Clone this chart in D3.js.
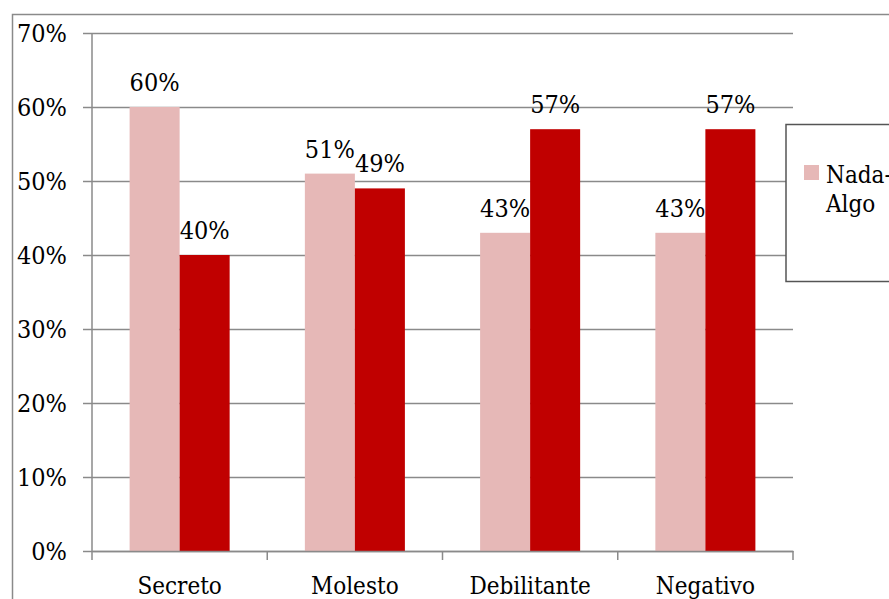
<!DOCTYPE html>
<html>
<head>
<meta charset="utf-8">
<script src="https://cdn.jsdelivr.net/npm/d3@7"></script>
<style>
  html, body { margin: 0; padding: 0; background: #fff; }
  svg { display: block; }
  text { font-family: "DejaVu Serif Condensed", "DejaVu Serif", "Liberation Serif", serif; fill: #000; }
</style>
</head>
<body>
<svg id="chart" width="889" height="599"></svg>
<script>
// Categories and the two response groups
const categories = ["Secreto", "Molesto", "Debilitante", "Negativo"];
const seriesNames = ["Nada-Algo", "Bastante-Mucho"];
const nadaAlgo = [60, 51, 43, 43];
const bastanteMucho = [40, 49, 57, 57];
const yTicks = [0, 10, 20, 30, 40, 50, 60, 70];
const seriesColors = ["#E6B8B7", "#C00000"];

const FONT = "'DejaVu Serif Condensed', 'DejaVu Serif', serif";
const svg = d3.select("#chart");
const plot = { left: 92, right: 793, top: 33, bottom: 551 };
const gridColor = "#8a8a8a";

// Outer chart frame
svg.append("rect")
  .attr("x", 12.5).attr("y", 14.5)
  .attr("width", 1000).attr("height", 1000)
  .attr("fill", "none").attr("stroke", gridColor).attr("stroke-width", 1.5);

const x = d3.scaleBand().domain(categories).range([plot.left, plot.right]).paddingInner(0).paddingOuter(0);
const xs = d3.scaleBand().domain([0, 1]).range([0, x.bandwidth()]).paddingInner(0).paddingOuter(0.752);
const y = d3.scaleLinear().domain([0, 70]).range([plot.bottom, plot.top]);

// Horizontal gridlines with left tick marks
const yAxis = d3.axisLeft(y).tickValues(yTicks).tickFormat(d => d + "%").tickSize(9).tickPadding(16);
const gy = svg.append("g").attr("transform", `translate(${plot.left},0)`).call(yAxis);
gy.select(".domain").remove();
gy.selectAll(".tick line").attr("stroke", gridColor).attr("stroke-width", 1.5);
gy.selectAll(".tick").append("line")
  .attr("x1", 0).attr("x2", plot.right - plot.left)
  .attr("stroke", gridColor).attr("stroke-width", 1.5);
gy.selectAll(".tick text").style("font-family", FONT).style("font-size", "25px").attr("fill", "#000");

// Bars
const data = categories.map((c, i) => ({ c, vals: [nadaAlgo[i], bastanteMucho[i]] }));
const groups = svg.append("g").selectAll("g").data(data).join("g")
  .attr("transform", d => `translate(${x(d.c)},0)`);
groups.selectAll("rect").data(d => d.vals.map((v, k) => ({ v, k }))).join("rect")
  .attr("x", d => xs(d.k))
  .attr("width", xs.bandwidth())
  .attr("y", d => y(d.v))
  .attr("height", d => y(0) - y(d.v))
  .attr("fill", d => seriesColors[d.k]);

// Value labels
groups.selectAll("text.val").data(d => d.vals.map((v, k) => ({ v, k }))).join("text")
  .attr("class", "val")
  .attr("x", d => xs(d.k) + xs.bandwidth() / 2)
  .attr("y", d => y(d.v) - 16)
  .attr("text-anchor", "middle")
  .style("font-size", "25px")
  .text(d => d.v + "%");

// Y axis line and category axis
svg.append("line").attr("x1", plot.left).attr("x2", plot.left)
  .attr("y1", plot.top).attr("y2", plot.bottom)
  .attr("stroke", gridColor).attr("stroke-width", 1.5);
const xAxis = d3.axisBottom(x).tickSize(0).tickPadding(0);
const gx = svg.append("g").attr("transform", `translate(0,${plot.bottom})`).call(xAxis);
gx.select(".domain").attr("stroke", gridColor).attr("stroke-width", 1.5);
gx.selectAll(".tick text").remove();
const bounds = categories.map(c => x(c)).concat([plot.right]);
gx.selectAll("line.b").data(bounds).join("line").attr("class", "b")
  .attr("x1", d => d).attr("x2", d => d).attr("y1", 0).attr("y2", 9)
  .attr("stroke", gridColor).attr("stroke-width", 1.5);
svg.append("g").selectAll("text").data(categories).join("text")
  .attr("x", d => x(d) + x.bandwidth() / 2)
  .attr("y", 594)
  .attr("text-anchor", "middle")
  .style("font-size", "24px")
  .text(d => d);

// Legend
const lg = svg.append("g");
lg.append("rect").attr("x", 786).attr("y", 124.5).attr("width", 300).attr("height", 157)
  .attr("fill", "#fff").attr("stroke", "#555").attr("stroke-width", 1.5);
lg.append("rect").attr("x", 804).attr("y", 165).attr("width", 15).attr("height", 15)
  .attr("fill", seriesColors[0]);
const parts = seriesNames[0].split("-");
lg.append("text").attr("x", 826).attr("y", 183).style("font-size", "24px").text(parts[0] + "-");
lg.append("text").attr("x", 826).attr("y", 212).style("font-size", "24px").text(parts[1]);
</script>
</body>
</html>
